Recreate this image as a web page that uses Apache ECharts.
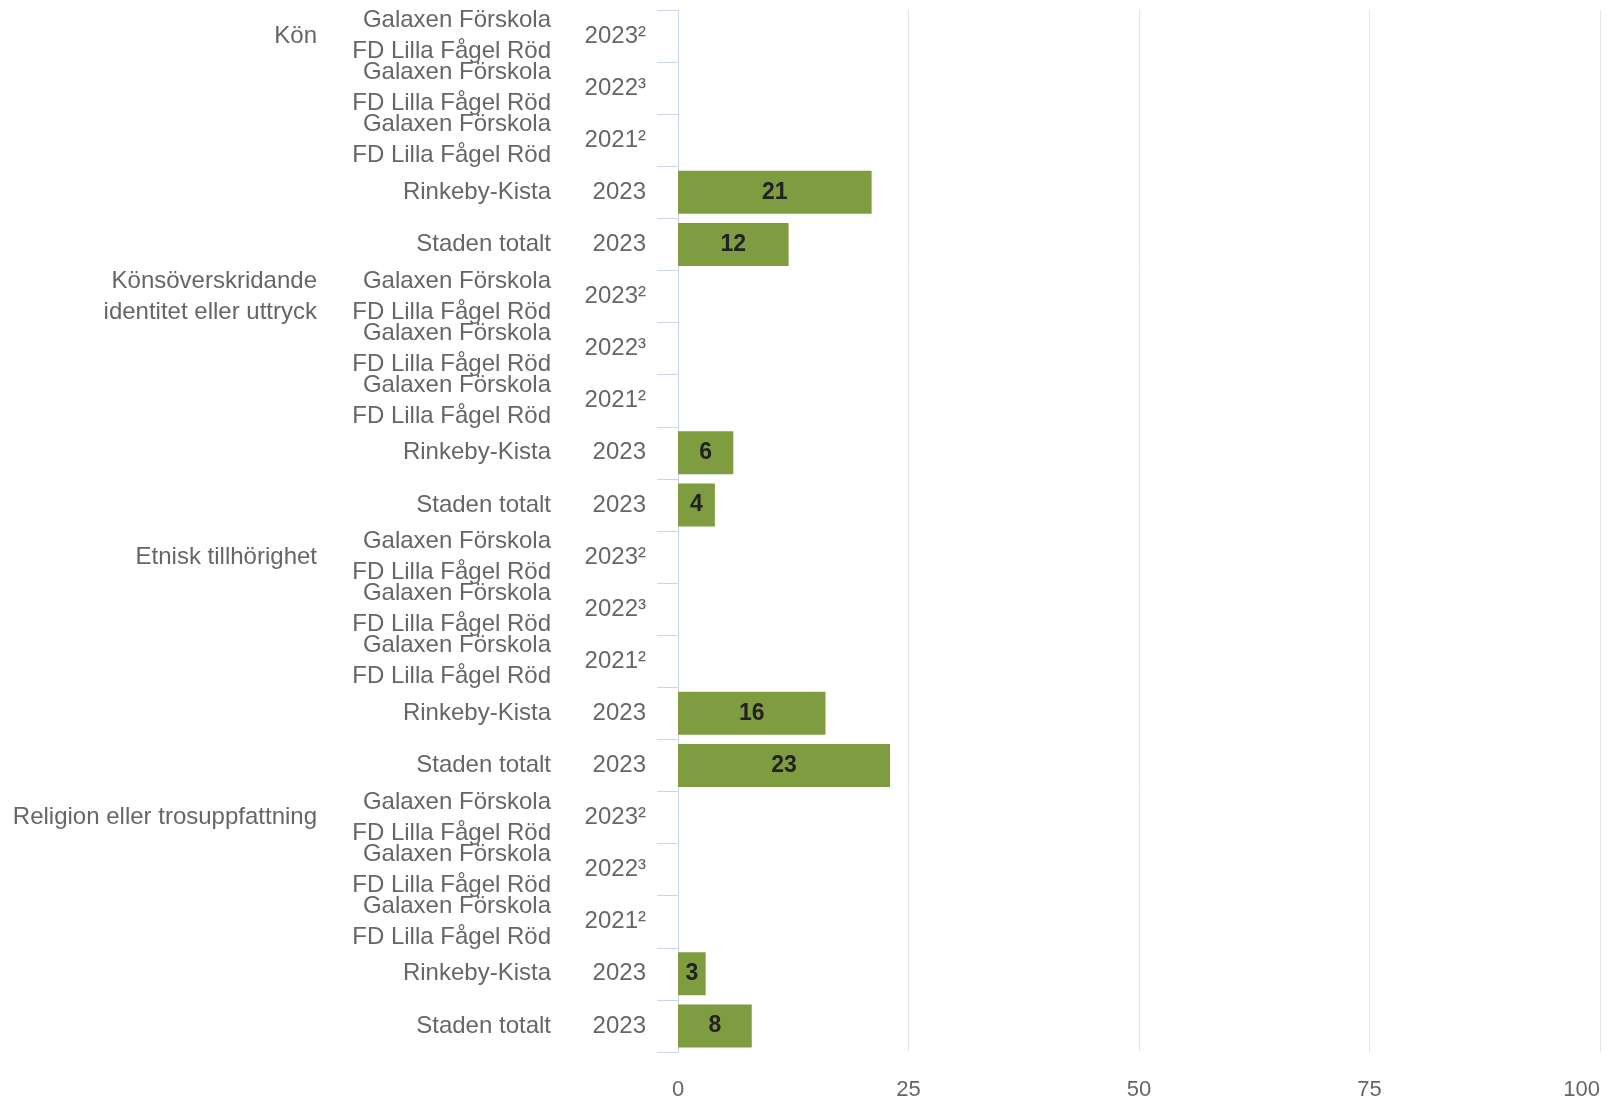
<!DOCTYPE html>
<html>
<head>
<meta charset="utf-8">
<script src="https://cdn.jsdelivr.net/npm/echarts@6/dist/echarts.min.js"></script>
<style>
html,body{margin:0;padding:0;background:#fff;}
#chart{width:1617px;height:1097px;}
</style>
</head>
<body>
<div id="chart"></div>
<script>
const groups = ['Kön', 'Könsöverskridande\nidentitet eller uttryck', 'Etnisk tillhörighet', 'Religion eller trosuppfattning'];
const units = ['Galaxen Förskola\nFD Lilla Fågel Röd', 'Galaxen Förskola\nFD Lilla Fågel Röd', 'Galaxen Förskola\nFD Lilla Fågel Röd', 'Rinkeby-Kista', 'Staden totalt'];
const years = ['2023²', '2022³', '2021²', '2023', '2023'];
const valuesKon = [null, null, null, 21, 12];
const valuesIdentitet = [null, null, null, 6, 4];
const valuesEtnisk = [null, null, null, 16, 23];
const valuesReligion = [null, null, null, 3, 8];
const xTicks = [0, 25, 50, 75, 100];

const groupValues = [valuesKon, valuesIdentitet, valuesEtnisk, valuesReligion];
const yearLabels = [], unitLabels = [], groupLabels = [], data = [], ids = [];
groups.forEach((g, gi) => {
  years.forEach((y, ri) => {
    ids.push(String(ids.length));
    yearLabels.push(y);
    unitLabels.push(units[ri]);
    groupLabels.push(ri === 0 ? g : '');
    data.push(groupValues[gi][ri]);
  });
});

const font = '"Liberation Sans", Arial, sans-serif';
const txt = {color: '#666666', fontSize: 24, fontFamily: font, lineHeight: 31};

const chart = echarts.init(document.getElementById('chart'), null, {renderer: 'canvas'});
chart.setOption({
  animation: false,
  grid: {left: 678, right: 17, top: 10, bottom: 45, containLabel: false, outerBoundsMode: 'none'},
  xAxis: {
    type: 'value', min: 0, max: 100, interval: 25,
    axisLine: {show: false}, axisTick: {show: false},
    splitLine: {show: true, lineStyle: {color: '#e6e6e6', width: 1}},
    axisLabel: Object.assign({}, txt, {fontSize: 22, margin: 22, alignMaxLabel: 'right', formatter: v => xTicks.includes(v) ? String(v) : ''})
  },
  yAxis: [
    {
      type: 'category', data: ids, inverse: true, position: 'left',
      axisLine: {show: true, lineStyle: {color: '#ccd6eb', width: 1}},
      axisTick: {show: true, length: 21, lineStyle: {color: '#ccd6eb', width: 1}},
      axisLabel: Object.assign({}, txt, {interval: 0, margin: 32, formatter: (v, i) => yearLabels[i]})
    },
    {
      type: 'category', data: ids, inverse: true, position: 'left', offset: 127,
      axisLine: {show: false}, axisTick: {show: false},
      axisLabel: Object.assign({}, txt, {interval: 0, margin: 0, formatter: (v, i) => unitLabels[i]})
    },
    {
      type: 'category', data: ids, inverse: true, position: 'left', offset: 361,
      axisLine: {show: false}, axisTick: {show: false},
      axisLabel: Object.assign({}, txt, {interval: 0, margin: 0, formatter: (v, i) => groupLabels[i]})
    }
  ],
  series: [{
    type: 'bar', yAxisIndex: 0, data: data, barWidth: 43,
    itemStyle: {color: '#7f9c41'},
    label: {show: true, position: 'inside', color: '#222222', fontSize: 23, fontWeight: 'bold', fontFamily: font}
  }]
});
</script>
</body>
</html>
